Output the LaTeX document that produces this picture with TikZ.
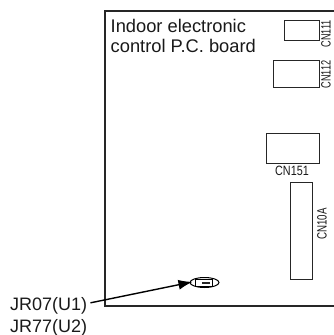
\documentclass[tikz,border=0pt]{standalone}
\usepackage{fontspec}
\setmainfont{Liberation Sans}
\usetikzlibrary{arrows.meta, shapes.geometric}
\begin{document}
\begin{tikzpicture}[x=1pt, y=-1pt]
	\tikzset{conn/.style={rectangle, draw=black!85, line width=0.9pt, inner sep=0pt}, etiq/.style={inner sep=0pt, text=black!90}, petit/.style={etiq, font=\fontsize{13.5}{13.5}\selectfont, rotate=90}, fleche/.style={-{Latex[length=14pt, width=10pt]}, line width=1.4pt, black, shorten >=-3pt}};

	\useasboundingbox (0,0) rectangle (334,335);

	\draw[line width=2.2pt, black!85] (334,11) -- (105,11) -- (105,306) -- (334,306);

	\node[etiq, anchor=base west, font=\fontsize{18.3}{18.3}\selectfont] (titre1) at (110.5,32) {Indoor electronic};
	\node[etiq, anchor=base west, font=\fontsize{18.3}{18.3}\selectfont] (titre2) at (110.5,52) {control P.C. board};

	\node[conn, minimum width=35pt, minimum height=19.5pt] (cn111) at (301.5,30.5) {};
	\node[conn, minimum width=46pt, minimum height=26.5pt] (cn112) at (296,74) {};
	\node[conn, minimum width=53pt, minimum height=30pt] (cn151) at (292.5,148) {};
	\node[conn, minimum width=22pt, minimum height=97pt] (cn10a) at (301,230.5) {};

	\node[petit] (l111) at (326,34) {\scalebox{0.68}[1]{CN111}};
	\node[petit] (l112) at (326,74.5) {\scalebox{0.68}[1]{CN112}};
	\node[etiq, font=\fontsize{13.5}{13.5}\selectfont] (l151) at (292,171) {\scalebox{0.8}[1]{CN151}};
	\node[petit] (l10a) at (322,224) {\scalebox{0.72}[1]{CN10A}};

	\node[draw=black, ellipse, line width=1pt, minimum width=29pt, minimum height=10pt, inner sep=0pt] (jr) at (204.5,282.5) {};
	\node[draw=black, rectangle, line width=1pt, minimum width=17pt, minimum height=7pt, inner sep=0pt] (jrc) at (204,282.5) {};
	\node[fill=black!85, rectangle, minimum width=8pt, minimum height=2.4pt, inner sep=0pt] (jrb) at (206,283) {};

	\node[etiq, anchor=base west, font=\fontsize{18}{18}\selectfont] (jr07) at (10,310) {JR07(U1)};
	\node[etiq, anchor=base west, font=\fontsize{18}{18}\selectfont] (jr77) at (10,332) {JR77(U2)};

	\draw[fleche] (jr07.east) ++(3,-2.5) coordinate (dep) (dep) -- (jr.west);
\end{tikzpicture}
\end{document}
